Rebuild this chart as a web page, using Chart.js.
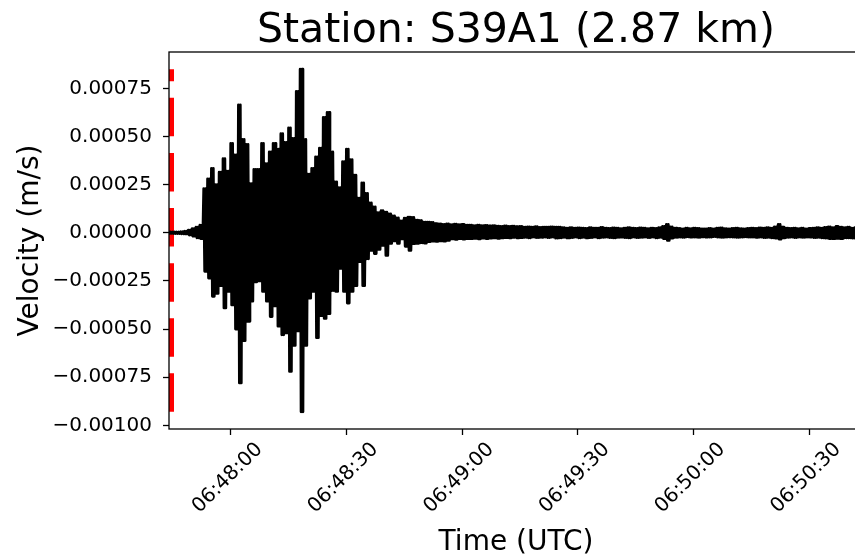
<!DOCTYPE html>
<html>
<head>
<meta charset="utf-8">
<script src="https://cdn.jsdelivr.net/npm/chart.js@4.4.1/dist/chart.umd.min.js"></script>
<style>
  html, body { margin: 0; padding: 0; background: #fff; overflow: hidden; }
  #wrap { width: 855px; height: 558px; overflow: hidden; }
</style>
</head>
<body>
<div id="wrap"><canvas id="chart" width="900" height="558"></canvas></div>
<script>
// seconds after 06:47:44 UTC, one value per second (peak up / peak down, in um/s)
const titleText = "Station: S39A1 (2.87 km)";
const upperUm = [
  4, 5, 4, 6, 8, 14, 22, 30, 40, 230,
  280, 335, 250, 315, 385, 320, 465, 405, 665, 485,
  460, 255, 330, 330, 465, 360, 420, 465, 435, 515,
  470, 545, 490, 735, 850, 485, 305, 335, 395, 440,
  600, 625, 420, 265, 235, 370, 435, 380, 300, 180,
  260, 205, 155, 135, 105, 115, 108, 98, 88, 78,
  62, 76, 82, 80, 66, 64, 56, 55, 54, 48,
  46, 44, 46, 43, 45, 42, 44, 40, 40, 38,
  40, 37, 39, 36, 38, 35, 34, 36, 33, 35,
  32, 34, 30, 31, 29, 32, 28, 30, 29, 31,
  30, 29, 27, 25, 27, 24, 26, 25, 23, 27,
  25, 24, 28, 25, 23, 26, 24, 22, 25, 27,
  24, 23, 26, 24, 22, 25, 23, 27, 33, 44,
  31, 25, 23, 21, 24, 22, 25, 23, 21, 20,
  23, 21, 24, 26, 22, 20, 23, 25, 22, 21,
  23, 25, 23, 26, 24, 27, 25, 31, 44, 29,
  25, 23, 25, 22, 24, 21, 23, 25, 27, 24,
  28, 31, 27, 33, 30, 27, 29, 25, 28, 26,
  25
];
const lowerUm = [
  3, 4, 4, 5, 6, 12, 18, 26, 30, 200,
  235, 330, 315, 275, 390, 305, 375, 500, 780, 560,
  460, 355, 255, 250, 305, 355, 435, 380, 485, 530,
  520, 720, 585, 510, 930, 585, 340, 305, 545, 430,
  445, 420, 300, 305, 185, 305, 365, 305, 275, 150,
  275, 135, 92, 108, 86, 66, 118, 55, 42, 55,
  32, 70, 92, 56, 55, 52, 54, 46, 44, 45,
  42, 44, 40, 32, 34, 30, 33, 30, 31, 29,
  32, 28, 30, 28, 27, 29, 26, 25, 27, 24,
  26, 25, 24, 26, 23, 25, 24, 22, 25, 23,
  28, 26, 24, 27, 25, 23, 26, 24, 27, 25,
  23, 26, 24, 22, 25, 27, 24, 23, 25, 26,
  23, 25, 24, 22, 25, 23, 26, 24, 31, 40,
  28, 24, 22, 24, 21, 23, 22, 24, 21, 23,
  22, 20, 23, 24, 22, 21, 23, 24, 22, 21,
  23, 22, 24, 23, 25, 24, 26, 28, 33, 27,
  24, 23, 25, 22, 24, 22, 23, 25, 24, 26,
  28, 30, 31, 29, 31, 27, 26, 28, 25, 27,
  26
];
const xTicks = [16, 46, 76, 106, 136, 166];
const xTickLabels = ["06:48:00", "06:48:30", "06:49:00", "06:49:30", "06:50:00", "06:50:30"];
const yTicks = [0.00075, 0.0005, 0.00025, 0, -0.00025, -0.0005, -0.00075, -0.001];
const yTickLabels = ["0.00075", "0.00050", "0.00025", "0.00000", "\u22120.00025", "\u22120.00050", "\u22120.00075", "\u22120.00100"];

const fontFamily = "'DejaVu Sans', sans-serif";

// trace: the signal swings between the read peaks twice each second
const trace = [];
for (let i = 0; i < upperUm.length; i++) {
  for (const f of [0, 0.5]) {
    trace.push({x: i + f, y: upperUm[i] * 1e-6});
    trace.push({x: i + f + 0.25, y: -lowerUm[i] * 1e-6});
  }
}
const dataMax = Math.max(...upperUm) * 1e-6;
const dataMin = -Math.max(...lowerUm) * 1e-6;
const margin = 0.05 * (dataMax - dataMin);

const frameAndLabels = {
  id: "frameAndLabels",
  afterDraw(chart) {
    const {ctx, chartArea: a, scales} = chart;
    ctx.save();
    ctx.strokeStyle = "#000";
    ctx.lineWidth = 1.3;
    ctx.strokeRect(a.left, a.top, a.right - a.left, a.bottom - a.top);
    ctx.fillStyle = "#000";
    ctx.font = "20px " + fontFamily;
    ctx.textAlign = "center";
    ctx.textBaseline = "middle";
    xTicks.forEach((v, i) => {
      const px = scales.x.getPixelForValue(v);
      ctx.save();
      ctx.translate(px - 3, 478);
      ctx.rotate(-Math.PI / 4);
      ctx.fillText(xTickLabels[i], 0, 0);
      ctx.restore();
    });
    ctx.restore();
  }
};

new Chart(document.getElementById("chart"), {
  type: "line",
  data: {
    datasets: [
      {
        data: trace,
        borderColor: "#000",
        borderWidth: 2.7,
        borderJoinStyle: "round",
        borderCapStyle: "round",
        pointRadius: 0,
        tension: 0,
        clip: 0,
        order: 1
      },
      {
        data: [{x: 0, y: dataMin}, {x: 0, y: dataMax}],
        borderColor: "red",
        borderWidth: 10,
        borderDash: [38.5, 16.6],
        pointRadius: 0,
        clip: 0,
        order: 2
      }
    ]
  },
  options: {
    responsive: false,
    animation: false,
    devicePixelRatio: 1,
    layout: {padding: {left: 0, right: 37, top: 0, bottom: 0}},
    plugins: {
      legend: {display: false},
      tooltip: {enabled: false},
      title: {
        display: true,
        text: titleText,
        fullSize: false,
        color: "#000",
        font: {family: fontFamily, size: 41, weight: "normal", lineHeight: 1},
        padding: {top: 11, bottom: 0}
      }
    },
    scales: {
      x: {
        type: "linear",
        min: 0,
        max: 180,
        afterFit: s => { s.height = 129; },
        afterBuildTicks: s => { s.ticks = xTicks.map(v => ({value: v})); },
        ticks: {display: false},
        grid: {drawOnChartArea: false, drawTicks: true, tickLength: 6, tickWidth: 1.3, tickColor: "#000"},
        border: {display: false},
        title: {
          display: true,
          text: "Time (UTC)",
          color: "#000",
          font: {family: fontFamily, size: 28, lineHeight: 1},
          padding: {top: 0, bottom: 1}
        }
      },
      y: {
        min: dataMin - margin,
        max: dataMax + margin,
        afterFit: s => { s.width = 169; },
        afterBuildTicks: s => { s.ticks = yTicks.map(v => ({value: v})); },
        ticks: {
          autoSkip: false,
          padding: 11,
          color: "#000",
          font: {family: fontFamily, size: 20},
          callback: (v, i) => yTickLabels[i]
        },
        grid: {drawOnChartArea: false, drawTicks: true, tickLength: 6, tickWidth: 1.3, tickColor: "#000"},
        border: {display: false},
        title: {
          display: true,
          text: "Velocity (m/s)",
          color: "#000",
          font: {family: fontFamily, size: 28, lineHeight: 1},
          padding: {top: 17, bottom: 0}
        }
      }
    }
  },
  plugins: [frameAndLabels]
});
</script>
</body>
</html>
